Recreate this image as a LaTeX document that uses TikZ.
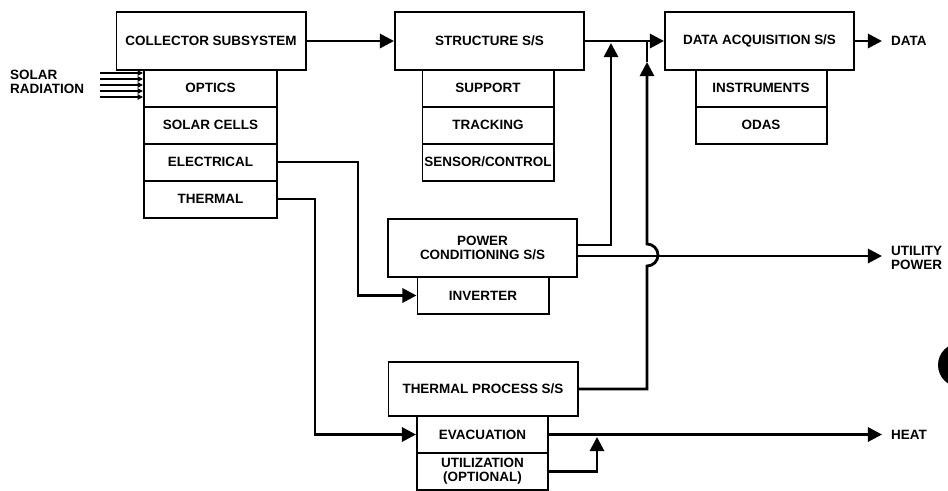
\documentclass[tikz,border=0pt]{standalone}
\usepackage{fontspec}
\setmainfont{Liberation Sans}
\usetikzlibrary{arrows.meta}

\begin{document}
\begin{tikzpicture}[x=0.03cm,y=-0.03cm,
		every node/.style={align=center,font=\bfseries\fontsize{11.5}{12}\selectfont},
		block/.style={draw,line width=1.7pt,minimum width=5.67cm,minimum height=1.74cm,inner sep=0pt},
		subblock/.style={draw,line width=1.7pt,minimum width=3.93cm,minimum height=1.11cm,inner sep=0pt},
		flowline/.style={line width=2.4pt},
		flow/.style={flowline,-{Triangle[length=12pt,width=12pt]}},
		ray/.style={line width=1.3pt,-{Triangle[length=4.5pt,width=4.5pt]}},
		outlabel/.style={anchor=west,align=left}]
		\useasboundingbox (0,0) rectangle (948,490);
		\clip (0,0) rectangle (948,490);
		% subsystems along the top
		\node[block] (collector) at (211,41) {COLLECTOR SUBSYSTEM};
		\node[subblock,minimum width=3.99cm] (optics) at (210.5,88) {OPTICS};
		\node[subblock,minimum width=3.99cm] (solarcells) at (210.5,125) {SOLAR CELLS};
		\node[subblock,minimum width=3.99cm] (electrical) at (210.5,162) {ELECTRICAL};
		\node[subblock,minimum width=3.99cm] (thermal) at (210.5,199) {THERMAL};
		\node[block] (structure) at (489.5,41) {STRUCTURE S/S};
		\node[subblock] (support) at (488,88) {SUPPORT};
		\node[subblock] (tracking) at (488,125) {TRACKING};
		\node[subblock] (sensor) at (488,162) {SENSOR/CONTROL};
		\node[block] (dataacq) at (759.5,41) {DATA ACQUISITION S/S};
		\node[subblock] (instruments) at (761,88) {INSTRUMENTS};
		\node[subblock] (odas) at (761,125) {ODAS};
		% power and heat branches
		\node[block] (powercond) at (482.5,248) {POWER\\CONDITIONING S/S};
		\node[subblock] (inverter) at (483,295.5) {INVERTER};
		\node[block,minimum height=1.62cm] (thermproc) at (483,389) {THERMAL PROCESS S/S};
		\node[subblock] (evacuation) at (482.5,434.5) {EVACUATION};
		\node[subblock] (utilization) at (482.5,471.5) {UTILIZATION\\(OPTIONAL)};
		% outputs
		\coordinate (dataout) at (882,41);
		\coordinate (utilout) at (882,256);
		\coordinate (heatout) at (882,434.5);
		\coordinate (pcjoin) at (611,43);
		\coordinate (tptip) at (647,62);
		\coordinate (tpjoin) at (647,41);
		\coordinate (utjoin) at (597,437);
		\node[outlabel] (datalbl) at (887,41) {DATA};
		\node[outlabel] (utillbl) at (887,257.5) {UTILITY\\POWER};
		\node[outlabel] (heatlbl) at (887,435) {HEAT};
		\node[outlabel] (solarlbl) at (6,82) {SOLAR\\RADIATION};
		% incoming radiation
		\foreach \y in {73,79,85,91,97}
			\draw[ray] (100,\y) -- (optics.west |- 0,\y);
		% connectors
		\draw[flow] (collector) -- (structure);
		\draw[flow] (structure) -- (dataacq);
		\draw[flow] (dataacq) -- (dataout);
		\draw[flow] (electrical.east) -- ++(80,0) |- (inverter.west);
		\draw[flow] (thermal.east) -- ++(37,0) |- (evacuation.west);
		\draw[flow] (powercond.east) ++(0,-3) -| (pcjoin);
		\draw[flow] (powercond.east) ++(0,8) -- (utilout);
		\draw[flow] (thermproc.east) -| (647,266) arc[start angle=90,end angle=-90,radius=11] -- (tptip); % hops over utility line
		\draw[flowline] (tptip) -- (tpjoin);
		\draw[flow] (evacuation.east) -- (heatout);
		\draw[flow] (utilization.east) -| (utjoin);
		% scan mark at the right edge
		\fill (960,365) circle[radius=22];
\end{tikzpicture}
\end{document}
